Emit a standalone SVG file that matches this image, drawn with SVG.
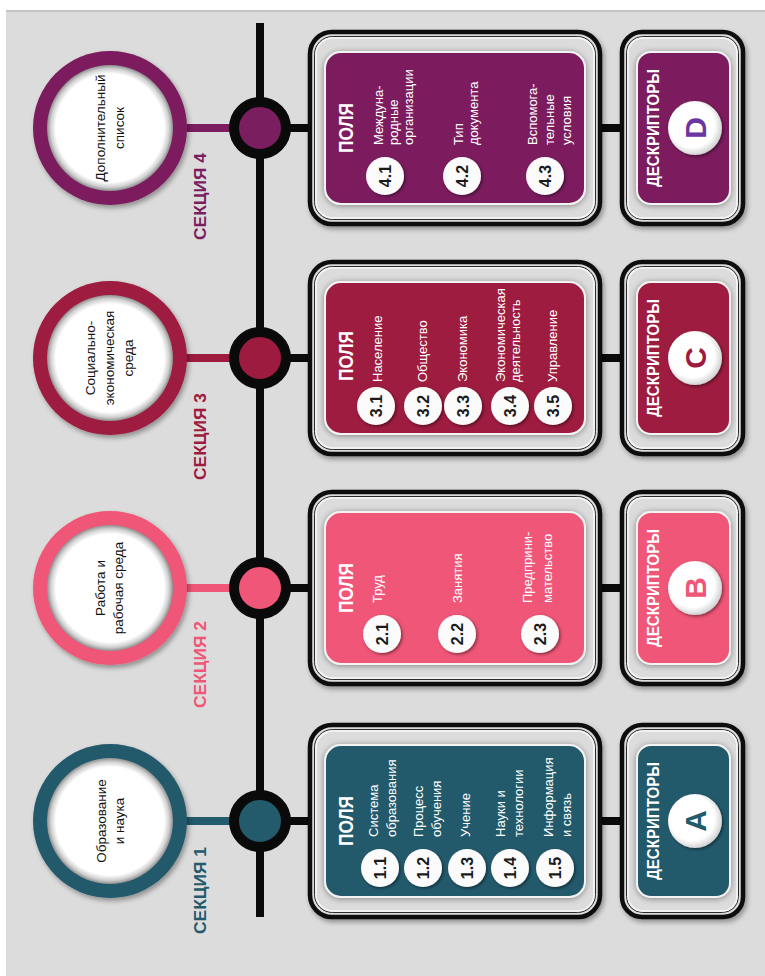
<svg xmlns="http://www.w3.org/2000/svg" width="765" height="976" viewBox="0 0 765 976">
<style>
.frame{fill:#dcdcdc;stroke:#0d0d0d;stroke-width:4.5}
.in1{fill:none;stroke:#2a2a2a;stroke-width:1}
.in2{fill:none;stroke:#f7f7f7;stroke-width:1.5}
.panel{stroke:#f3f3f3;stroke-width:2}
.badge{fill:#fbfbfb}
.lbl{font-family:"Liberation Sans",Arial,sans-serif;font-size:13px;fill:#ffffff}
.pol{font-family:"Liberation Sans",Arial,sans-serif;font-weight:bold;font-size:20px;fill:#ffffff}
.num{font-family:"Liberation Sans",Arial,sans-serif;font-weight:bold;font-size:16px;fill:#1a1a1a;text-anchor:middle}
.desc{font-family:"Liberation Sans",Arial,sans-serif;font-weight:bold;font-size:17px;fill:#ffffff;text-anchor:middle}
.let{font-family:"Liberation Sans",Arial,sans-serif;font-weight:bold;font-size:30px;text-anchor:middle}
.cir{font-family:"Liberation Sans",Arial,sans-serif;font-size:13.5px;fill:#111111;text-anchor:middle}
.sec{font-family:"Liberation Sans",Arial,sans-serif;font-weight:bold;font-size:17px}
.spine{stroke:#0a0a0a;stroke-width:8;fill:none}
.blk{stroke:#0a0a0a;stroke-width:8}
.jn{stroke:#0a0a0a;stroke-width:10}
</style>
<defs>
<filter id="sh" x="-20%" y="-20%" width="140%" height="140%"><feDropShadow dx="2" dy="3" stdDeviation="2.5" flood-color="#000" flood-opacity="0.35"/></filter>
<filter id="psh" x="-20%" y="-20%" width="140%" height="140%"><feDropShadow dx="0" dy="1" stdDeviation="3" flood-color="#000" flood-opacity="0.4"/></filter>
<filter id="bsh" x="-40%" y="-40%" width="180%" height="180%"><feDropShadow dx="1.5" dy="1.5" stdDeviation="1.5" flood-color="#000" flood-opacity="0.45"/></filter>
<radialGradient id="wg" cx="50%" cy="50%" r="50%">
<stop offset="0.86" stop-color="#ffffff"/>
<stop offset="0.94" stop-color="#d0d0d0"/>
<stop offset="1" stop-color="#8f8f8f"/>
</radialGradient>
<radialGradient id="bg" cx="45%" cy="45%" r="55%">
<stop offset="0.75" stop-color="#ffffff"/>
<stop offset="1" stop-color="#d4d4d4"/>
</radialGradient>
</defs>
<rect x="0" y="0" width="765" height="976" fill="#ffffff"/>
<rect x="6" y="10" width="759" height="966" fill="#dcdcdc"/>
<line x1="6" y1="11" x2="765" y2="11" stroke="#bdbdbd" stroke-width="1.5"/>

<g id="connectors">
<line class="spine" x1="260" y1="23" x2="260" y2="917"/>
<line x1="185" y1="128" x2="240" y2="128" stroke="#7b1e5f" stroke-width="8"/>
<line x1="185" y1="358" x2="240" y2="358" stroke="#9e1b40" stroke-width="8"/>
<line x1="185" y1="588" x2="240" y2="588" stroke="#ef5677" stroke-width="8"/>
<line x1="185" y1="821" x2="240" y2="821" stroke="#235a6c" stroke-width="8"/>
<line class="blk" x1="285" y1="128" x2="312" y2="128"/>
<line class="blk" x1="285" y1="358" x2="312" y2="358"/>
<line class="blk" x1="285" y1="588" x2="312" y2="588"/>
<line class="blk" x1="285" y1="821" x2="312" y2="821"/>
<line class="blk" x1="598" y1="128" x2="624" y2="128"/>
<line class="blk" x1="598" y1="358" x2="624" y2="358"/>
<line class="blk" x1="598" y1="588" x2="624" y2="588"/>
<line class="blk" x1="598" y1="821" x2="624" y2="821"/>
</g>

<!-- SECTION 4 -->
<g id="section-4">
<circle cx="110" cy="128" r="77" fill="#7b1e5f" filter="url(#sh)"/>
<circle cx="110" cy="128" r="63" fill="url(#wg)"/>
<text class="cir" transform="translate(105,128) rotate(-90)">Дополнительный</text>
<text class="cir" transform="translate(124,128) rotate(-90)">список</text>
<text class="sec" fill="#7b1e5f" transform="translate(206,240) rotate(-90)" textLength="87" lengthAdjust="spacingAndGlyphs">СЕКЦИЯ 4</text>
</g>
<g id="junction-4"><circle class="jn" cx="260" cy="128" r="26" fill="#7b1e5f"/></g>
<g id="fields-4">
<rect class="frame" x="310" y="32" width="290" height="192" rx="22" filter="url(#sh)"/>
<rect class="in1" x="314.5" y="36.5" width="281" height="183" rx="18"/>
<rect class="in2" x="316" y="38" width="278" height="180" rx="17"/>
<rect class="panel" x="325" y="52" width="260" height="152" rx="16" fill="#7b1e5f" filter="url(#psh)"/>
<text class="pol" transform="translate(353,153) rotate(-90)" textLength="50" lengthAdjust="spacingAndGlyphs">ПОЛЯ</text>
<circle class="badge" cx="385" cy="176" r="19" filter="url(#bsh)"/>
<circle class="badge" cx="462" cy="176" r="19" filter="url(#bsh)"/>
<circle class="badge" cx="545" cy="176" r="19" filter="url(#bsh)"/>
<text class="num" transform="translate(390.5,176) rotate(-90)">4.1</text>
<text class="num" transform="translate(467.5,176) rotate(-90)">4.2</text>
<text class="num" transform="translate(550.5,176) rotate(-90)">4.3</text>
<text class="lbl" transform="translate(383,145) rotate(-90)">Междуна-</text>
<text class="lbl" transform="translate(398,145) rotate(-90)">родные</text>
<text class="lbl" transform="translate(413,145) rotate(-90)">организации</text>
<text class="lbl" transform="translate(463,145) rotate(-90)">Тип</text>
<text class="lbl" transform="translate(478,145) rotate(-90)">документа</text>
<text class="lbl" transform="translate(537,145) rotate(-90)">Вспомога-</text>
<text class="lbl" transform="translate(554,145) rotate(-90)">тельные</text>
<text class="lbl" transform="translate(571,145) rotate(-90)">условия</text>
</g>
<g id="descriptors-4">
<rect class="frame" x="622" y="32" width="121" height="192" rx="20" filter="url(#sh)"/>
<rect class="in1" x="626.5" y="36.5" width="112" height="183" rx="16"/>
<rect class="in2" x="628" y="38" width="109" height="180" rx="15"/>
<rect class="panel" x="637" y="52" width="93" height="152" rx="14" fill="#7b1e5f" filter="url(#psh)"/>
<text class="desc" transform="translate(659,128) rotate(-90)" textLength="118" lengthAdjust="spacingAndGlyphs">ДЕСКРИПТОРЫ</text>
<circle cx="695" cy="128" r="27" fill="url(#bg)" filter="url(#bsh)"/>
<text class="let" fill="#6a35a0" transform="translate(706,128) rotate(-90)">D</text>
</g>

<!-- SECTION 3 -->
<g id="section-3">
<circle cx="110" cy="358" r="77" fill="#9e1b40" filter="url(#sh)"/>
<circle cx="110" cy="358" r="63" fill="url(#wg)"/>
<text class="cir" transform="translate(95,358) rotate(-90)">Социально-</text>
<text class="cir" transform="translate(114,358) rotate(-90)">экономическая</text>
<text class="cir" transform="translate(133,358) rotate(-90)">среда</text>
<text class="sec" fill="#9e1b40" transform="translate(206,480) rotate(-90)" textLength="87" lengthAdjust="spacingAndGlyphs">СЕКЦИЯ 3</text>
</g>
<g id="junction-3"><circle class="jn" cx="260" cy="358" r="26" fill="#9e1b40"/></g>
<g id="fields-3">
<rect class="frame" x="310" y="262" width="290" height="192" rx="22" filter="url(#sh)"/>
<rect class="in1" x="314.5" y="266.5" width="281" height="183" rx="18"/>
<rect class="in2" x="316" y="268" width="278" height="180" rx="17"/>
<rect class="panel" x="325" y="282" width="260" height="152" rx="16" fill="#9e1b40" filter="url(#psh)"/>
<text class="pol" transform="translate(353,381) rotate(-90)" textLength="50" lengthAdjust="spacingAndGlyphs">ПОЛЯ</text>
<circle class="badge" cx="376" cy="406" r="19" filter="url(#bsh)"/>
<circle class="badge" cx="423" cy="406" r="19" filter="url(#bsh)"/>
<circle class="badge" cx="463" cy="406" r="19" filter="url(#bsh)"/>
<circle class="badge" cx="510" cy="406" r="19" filter="url(#bsh)"/>
<circle class="badge" cx="553" cy="406" r="19" filter="url(#bsh)"/>
<text class="num" transform="translate(381.5,406) rotate(-90)">3.1</text>
<text class="num" transform="translate(428.5,406) rotate(-90)">3.2</text>
<text class="num" transform="translate(468.5,406) rotate(-90)">3.3</text>
<text class="num" transform="translate(515.5,406) rotate(-90)">3.4</text>
<text class="num" transform="translate(558.5,406) rotate(-90)">3.5</text>
<text class="lbl" transform="translate(382,382) rotate(-90)">Население</text>
<text class="lbl" transform="translate(427,382) rotate(-90)">Общество</text>
<text class="lbl" transform="translate(467,382) rotate(-90)">Экономика</text>
<text class="lbl" transform="translate(505,382) rotate(-90)">Экономическая</text>
<text class="lbl" transform="translate(520,382) rotate(-90)">деятельность</text>
<text class="lbl" transform="translate(557,382) rotate(-90)">Управление</text>
</g>
<g id="descriptors-3">
<rect class="frame" x="622" y="262" width="121" height="192" rx="20" filter="url(#sh)"/>
<rect class="in1" x="626.5" y="266.5" width="112" height="183" rx="16"/>
<rect class="in2" x="628" y="268" width="109" height="180" rx="15"/>
<rect class="panel" x="637" y="282" width="93" height="152" rx="14" fill="#9e1b40" filter="url(#psh)"/>
<text class="desc" transform="translate(659,358) rotate(-90)" textLength="118" lengthAdjust="spacingAndGlyphs">ДЕСКРИПТОРЫ</text>
<circle cx="695" cy="358" r="27" fill="url(#bg)" filter="url(#bsh)"/>
<text class="let" fill="#9e1b40" transform="translate(706,358) rotate(-90)">C</text>
</g>

<!-- SECTION 2 -->
<g id="section-2">
<circle cx="110" cy="588" r="77" fill="#ef5677" filter="url(#sh)"/>
<circle cx="110" cy="588" r="63" fill="url(#wg)"/>
<text class="cir" transform="translate(105,588) rotate(-90)">Работа и</text>
<text class="cir" transform="translate(123,588) rotate(-90)">рабочая среда</text>
<text class="sec" fill="#ef5677" transform="translate(206,708) rotate(-90)" textLength="87" lengthAdjust="spacingAndGlyphs">СЕКЦИЯ 2</text>
</g>
<g id="junction-2"><circle class="jn" cx="260" cy="588" r="26" fill="#ef5677"/></g>
<g id="fields-2">
<rect class="frame" x="310" y="492" width="290" height="192" rx="22" filter="url(#sh)"/>
<rect class="in1" x="314.5" y="496.5" width="281" height="183" rx="18"/>
<rect class="in2" x="316" y="498" width="278" height="180" rx="17"/>
<rect class="panel" x="325" y="512" width="260" height="152" rx="16" fill="#ef5677" filter="url(#psh)"/>
<text class="pol" transform="translate(353,613) rotate(-90)" textLength="50" lengthAdjust="spacingAndGlyphs">ПОЛЯ</text>
<circle class="badge" cx="382" cy="634" r="19" filter="url(#bsh)"/>
<circle class="badge" cx="457" cy="634" r="19" filter="url(#bsh)"/>
<circle class="badge" cx="540" cy="634" r="19" filter="url(#bsh)"/>
<text class="num" transform="translate(387.5,634) rotate(-90)">2.1</text>
<text class="num" transform="translate(462.5,634) rotate(-90)">2.2</text>
<text class="num" transform="translate(545.5,634) rotate(-90)">2.3</text>
<text class="lbl" transform="translate(382,603) rotate(-90)">Труд</text>
<text class="lbl" transform="translate(462,603) rotate(-90)">Занятия</text>
<text class="lbl" transform="translate(532,603) rotate(-90)">Предприни-</text>
<text class="lbl" transform="translate(552,603) rotate(-90)">мательство</text>
</g>
<g id="descriptors-2">
<rect class="frame" x="622" y="492" width="121" height="192" rx="20" filter="url(#sh)"/>
<rect class="in1" x="626.5" y="496.5" width="112" height="183" rx="16"/>
<rect class="in2" x="628" y="498" width="109" height="180" rx="15"/>
<rect class="panel" x="637" y="512" width="93" height="152" rx="14" fill="#ef5677" filter="url(#psh)"/>
<text class="desc" transform="translate(659,588) rotate(-90)" textLength="118" lengthAdjust="spacingAndGlyphs">ДЕСКРИПТОРЫ</text>
<circle cx="695" cy="588" r="27" fill="url(#bg)" filter="url(#bsh)"/>
<text class="let" fill="#ef5677" transform="translate(706,588) rotate(-90)">B</text>
</g>

<!-- SECTION 1 -->
<g id="section-1">
<circle cx="110" cy="821" r="77" fill="#235a6c" filter="url(#sh)"/>
<circle cx="110" cy="821" r="63" fill="url(#wg)"/>
<text class="cir" transform="translate(106,821) rotate(-90)">Образование</text>
<text class="cir" transform="translate(124,821) rotate(-90)">и наука</text>
<text class="sec" fill="#235a6c" transform="translate(206,934) rotate(-90)" textLength="87" lengthAdjust="spacingAndGlyphs">СЕКЦИЯ 1</text>
</g>
<g id="junction-1"><circle class="jn" cx="260" cy="821" r="26" fill="#235a6c"/></g>
<g id="fields-1">
<rect class="frame" x="310" y="725" width="290" height="192" rx="22" filter="url(#sh)"/>
<rect class="in1" x="314.5" y="729.5" width="281" height="183" rx="18"/>
<rect class="in2" x="316" y="731" width="278" height="180" rx="17"/>
<rect class="panel" x="325" y="745" width="260" height="152" rx="16" fill="#235a6c" filter="url(#psh)"/>
<text class="pol" transform="translate(353,846) rotate(-90)" textLength="50" lengthAdjust="spacingAndGlyphs">ПОЛЯ</text>
<circle class="badge" cx="380" cy="868" r="19" filter="url(#bsh)"/>
<circle class="badge" cx="423" cy="868" r="19" filter="url(#bsh)"/>
<circle class="badge" cx="467" cy="868" r="19" filter="url(#bsh)"/>
<circle class="badge" cx="510" cy="868" r="19" filter="url(#bsh)"/>
<circle class="badge" cx="555" cy="868" r="19" filter="url(#bsh)"/>
<text class="num" transform="translate(385.5,868) rotate(-90)">1.1</text>
<text class="num" transform="translate(428.5,868) rotate(-90)">1.2</text>
<text class="num" transform="translate(472.5,868) rotate(-90)">1.3</text>
<text class="num" transform="translate(515.5,868) rotate(-90)">1.4</text>
<text class="num" transform="translate(560.5,868) rotate(-90)">1.5</text>
<text class="lbl" transform="translate(378,837) rotate(-90)">Система</text>
<text class="lbl" transform="translate(396,837) rotate(-90)">образования</text>
<text class="lbl" transform="translate(423,837) rotate(-90)">Процесс</text>
<text class="lbl" transform="translate(441,837) rotate(-90)">обучения</text>
<text class="lbl" transform="translate(470,837) rotate(-90)">Учение</text>
<text class="lbl" transform="translate(505,837) rotate(-90)">Науки и</text>
<text class="lbl" transform="translate(523,837) rotate(-90)">технологии</text>
<text class="lbl" transform="translate(553,837) rotate(-90)">Информация</text>
<text class="lbl" transform="translate(571,837) rotate(-90)">и связь</text>
</g>
<g id="descriptors-1">
<rect class="frame" x="622" y="725" width="121" height="192" rx="20" filter="url(#sh)"/>
<rect class="in1" x="626.5" y="729.5" width="112" height="183" rx="16"/>
<rect class="in2" x="628" y="731" width="109" height="180" rx="15"/>
<rect class="panel" x="637" y="745" width="93" height="152" rx="14" fill="#235a6c" filter="url(#psh)"/>
<text class="desc" transform="translate(659,821) rotate(-90)" textLength="118" lengthAdjust="spacingAndGlyphs">ДЕСКРИПТОРЫ</text>
<circle cx="695" cy="821" r="27" fill="url(#bg)" filter="url(#bsh)"/>
<text class="let" fill="#235a6c" transform="translate(706,821) rotate(-90)">A</text>
</g>
</svg>
